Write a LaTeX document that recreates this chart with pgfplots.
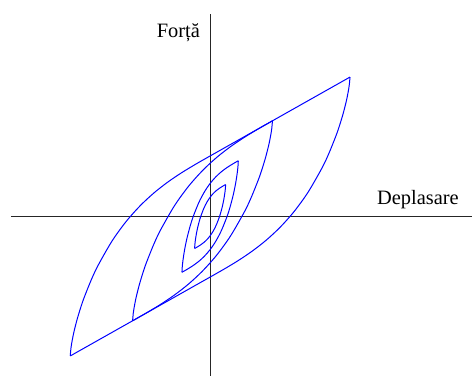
\documentclass[border=0pt]{standalone}
\usepackage{fontspec}
\setmainfont{Liberation Serif}
\newfontfamily\labelfont{Liberation Serif}
\usepackage{pgfplots}
\pgfplotsset{compat=1.18}

% Nested hysteresis loops (force vs. displacement)
\begin{document}
\begin{tikzpicture}
\begin{axis}[
  x=1bp, y=1bp,
  xmin=-210.3, xmax=261.7,
  ymin=-159.3, ymax=216.7,
  hide axis,
  clip=false,
  every axis plot/.append style={line width=1pt, line join=round},
]
% frame of the picture
\path (rel axis cs:0,0) rectangle (rel axis cs:1,1);

% coordinate axes
\addplot[black!85, line width=0.8pt] coordinates {(-199.3,0) (261.7,0)};
\addplot[black!85, line width=0.8pt] coordinates {(0,-159.3) (0,202.7)};

% --- outer loop ---
\addplot[blue, smooth] coordinates {
(-140,-139.56) (-139.3,-131.83) (-138.6,-127.15) (-137.2,-119.65) (-135.8,-113.34)
(-133,-102.52) (-129.5,-91.01) (-126,-80.90) (-119,-63.48) (-112,-48.64)
(-98,-24.28) (-84,-4.92) (-70,10.79) (-56,23.80) (-42,34.72) (-28,44.16)
(-14,52.62) (0,60.6)};
\addplot[blue] coordinates {(0,60.6) (140,139.56)};
\addplot[blue, smooth] coordinates {
(140,139.56) (139.3,131.83) (138.6,127.15) (137.2,119.65) (135.8,113.34)
(133,102.52) (129.5,91.01) (126,80.90) (119,63.48) (112,48.64)
(98,24.28) (84,4.92) (70,-10.79) (56,-23.80) (42,-34.72) (28,-44.16)
(14,-52.62) (0,-60.6)};
\addplot[blue] coordinates {(0,-60.6) (-140,-139.56)};

% --- second loop ---
\addplot[blue, smooth] coordinates {
(-77.6,-104.37) (-76.9,-96.64) (-76.2,-91.96) (-74.8,-84.46) (-73.4,-78.15)
(-70.6,-67.33) (-67.1,-55.82) (-63.6,-45.71) (-56.6,-28.29) (-49.6,-13.45)
(-35.6,10.91) (-21.6,30.27) (-7.6,45.98) (6.4,58.99) (20.4,69.91)
(34.4,79.35) (48.4,87.81) (62.4,95.79)};
\addplot[blue, smooth] coordinates {
(62.4,95.79) (61.7,88.06) (61.0,83.38) (59.6,75.88) (58.2,69.57)
(55.4,58.75) (51.9,47.24) (48.4,37.13) (41.4,19.71) (34.4,4.87)
(20.4,-19.49) (6.4,-38.85) (-7.6,-54.56) (-21.6,-67.57) (-35.6,-78.49)
(-49.6,-87.93) (-63.6,-96.39) (-77.6,-104.37)};

% --- third loop ---
\addplot[blue, smooth] coordinates {
(-28.2,-55.80) (-27.92,-50.81) (-27.64,-47.84) (-27.07,-43.10) (-26.51,-39.15)
(-25.38,-32.42) (-23.97,-25.35) (-22.56,-19.20) (-19.74,-8.74) (-16.92,0.03)
(-11.28,14.04) (-5.64,24.77) (0,33.10) (5.64,39.64) (11.28,44.82)
(16.92,49.01) (22.56,52.57) (28.2,55.80)};
\addplot[blue, smooth] coordinates {
(28.2,55.80) (27.92,50.81) (27.64,47.84) (27.07,43.10) (26.51,39.15)
(25.38,32.42) (23.97,25.35) (22.56,19.20) (19.74,8.74) (16.92,-0.03)
(11.28,-14.04) (5.64,-24.77) (0,-33.10) (-5.64,-39.64) (-11.28,-44.82)
(-16.92,-49.01) (-22.56,-52.57) (-28.2,-55.80)};

% --- inner loop ---
\addplot[blue, smooth] coordinates {
(-15.5,-32.00) (-15.345,-29.09) (-15.19,-27.37) (-14.88,-24.62) (-14.57,-22.32)
(-13.95,-18.43) (-13.175,-14.33) (-12.4,-10.77) (-10.85,-4.72) (-9.3,0.33)
(-6.2,8.40) (-3.1,14.55) (0,19.30) (3.1,23.01) (6.2,25.92)
(9.3,28.26) (12.4,30.22) (15.5,32.00)};
\addplot[blue, smooth] coordinates {
(15.5,32.00) (15.345,29.09) (15.19,27.37) (14.88,24.62) (14.57,22.32)
(13.95,18.43) (13.175,14.33) (12.4,10.77) (10.85,4.72) (9.3,-0.33)
(6.2,-8.40) (3.1,-14.55) (0,-19.30) (-3.1,-23.01) (-6.2,-25.92)
(-9.3,-28.26) (-12.4,-30.22) (-15.5,-32.00)};

% axis titles
\node[anchor=base west, inner sep=0pt, font=\labelfont\fontsize{20.5}{24}\selectfont]
  at (axis cs:-53.5,178.7) {Forță};
\node[anchor=base west, inner sep=0pt, font=\labelfont\fontsize{20.5}{24}\selectfont]
  at (axis cs:167,11.7) {Deplasare};
\end{axis}
\end{tikzpicture}
\end{document}
